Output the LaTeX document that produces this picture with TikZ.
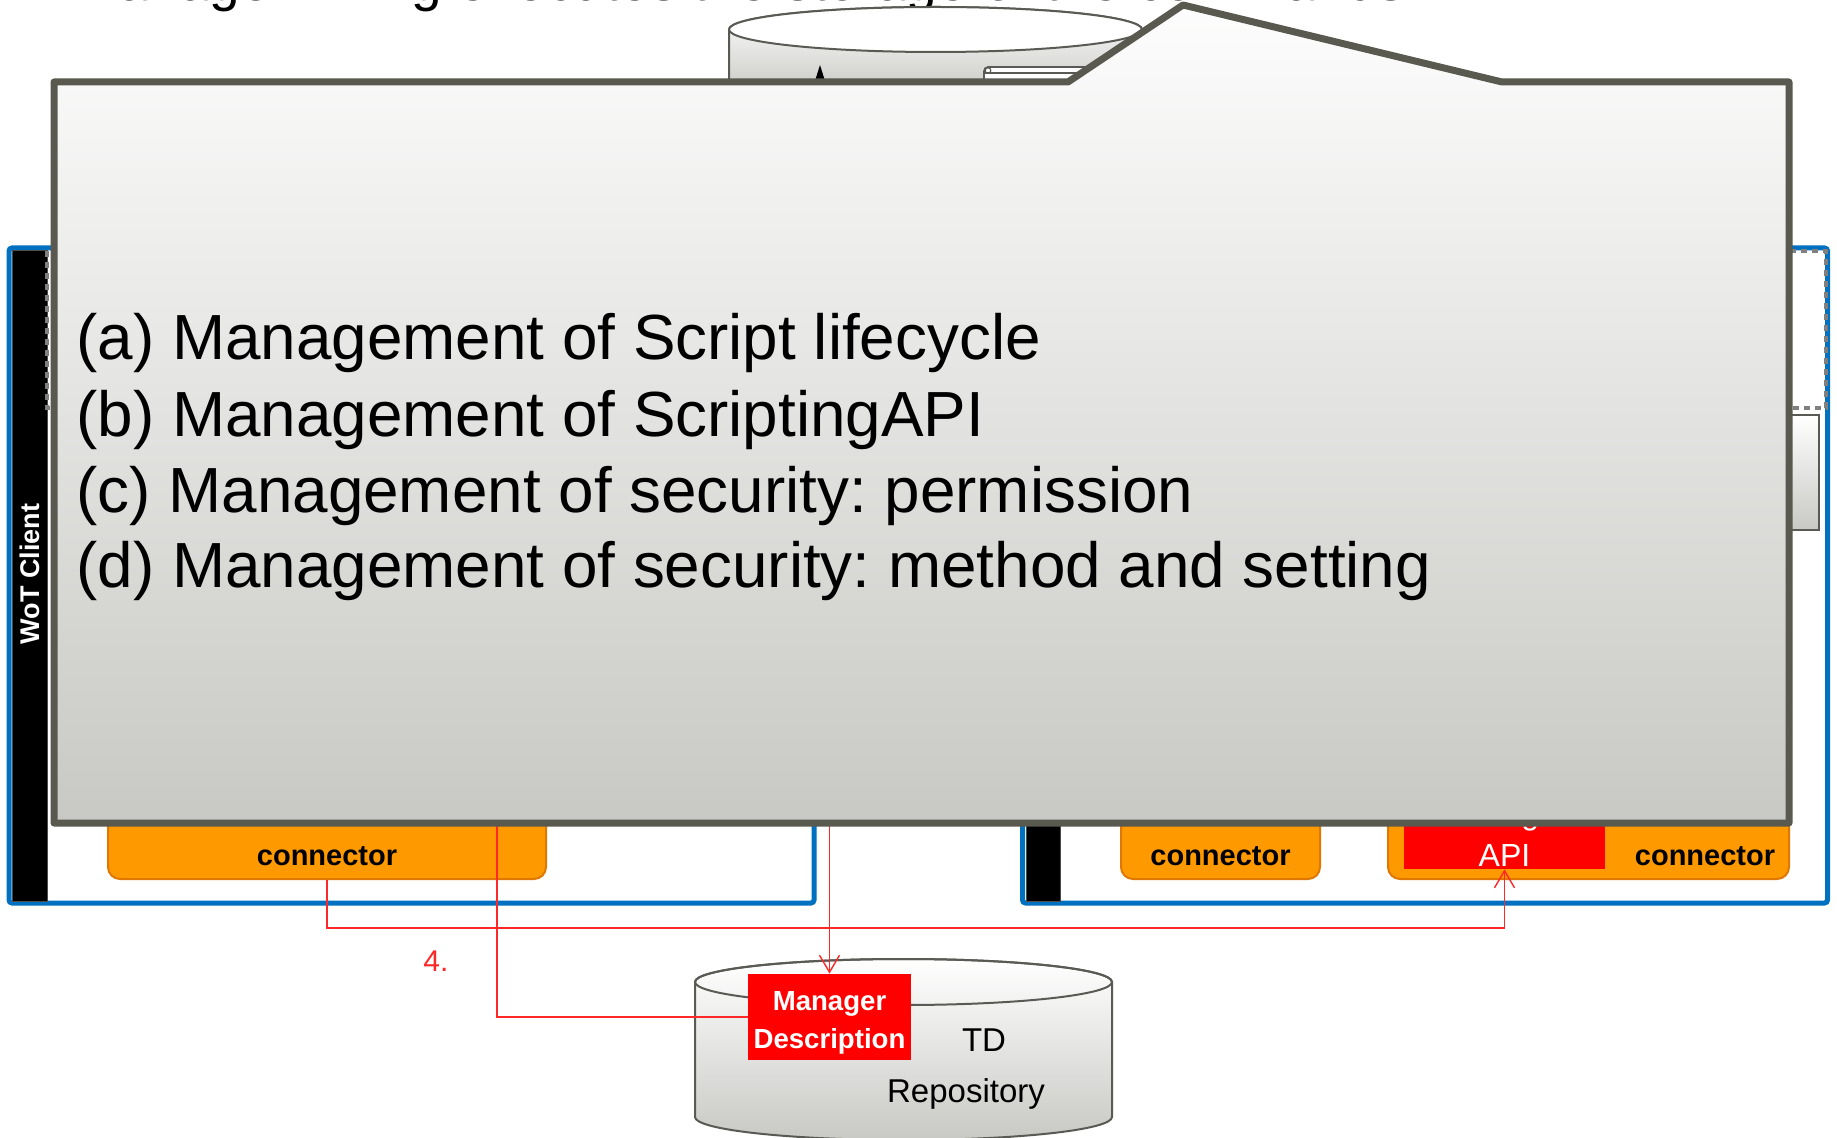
\documentclass[tikz,border=0pt]{standalone}
\usepackage{fontspec}
\setmainfont{Liberation Sans}
\usetikzlibrary{arrows.meta}
\definecolor{wotblue}{RGB}{0,112,192}
\definecolor{callgray}{RGB}{89,89,80}
\definecolor{calltop}{RGB}{253,253,253}
\definecolor{callbot}{RGB}{200,200,196}
\definecolor{orangefill}{RGB}{255,153,0}
\definecolor{orangeline}{RGB}{222,120,0}
\definecolor{linered}{RGB}{255,40,40}
\definecolor{dashgray}{RGB}{128,128,128}
\definecolor{cylline}{RGB}{90,90,85}
\definecolor{cylbot}{RGB}{200,200,196}
\definecolor{mdred}{RGB}{255,0,0}
\frenchspacing
\begin{document}
\begin{tikzpicture}[x=0.5pt,y=-0.5pt,
  bluebox/.style={draw=wotblue,line width=2.5pt,rounded corners=1.5pt,inner sep=0},
  blackbar/.style={fill=black,draw=black!70,line width=0.5pt,inner sep=0},
  connbox/.style={fill=orangefill,draw=orangeline,line width=1pt,rounded corners=6pt,inner sep=0},
  connlbl/.style={anchor=base,font=\bfseries\fontsize{14.5pt}{16pt}\selectfont,inner sep=0},
  redbox/.style={fill=mdred,inner sep=0},
  cylbody/.style={draw=cylline,line width=1pt,top color=white,bottom color=cylbot},
  redwire/.style={draw=linered,line width=0.7pt},
  redtip/.style={-{Straight Barb[length=8.5pt,width=10pt]}},
  calltxt/.style={anchor=base west,inner sep=0,font=\fontsize{31.9pt}{38pt}\selectfont}
]
\useasboundingbox (0,0) rectangle (1837,1138);
\fill[white] (0,0) rectangle (1837,1138);

% clipped heading at the very top
\node[anchor=base west,inner sep=0,font=\fontsize{27.5pt}{30pt}\selectfont] (toptext) at (72,0.8) {Manager Thing executes the storage of the commands};

% partly hidden cylinder at the top
\path[cylbody] (729,29.5) -- (729,95) -- (1142,95) -- (1142,29.5)
  arc[start angle=0,end angle=180,x radius=103.25pt,y radius=11.25pt] -- cycle;
\draw[cylline,line width=1pt,fill=white] (935.5,29.5) ellipse[x radius=103.25pt,y radius=11.25pt];
\draw[cylline,line width=0.8pt,fill=white,rounded corners=2pt] (984,67) rectangle (1110,95);
\draw[cylline,line width=0.8pt] (984,73) -- (1110,73);
\draw[cylline,line width=0.6pt] (988,70.5) circle[radius=1.4pt];
\fill[black] (814,84) -- (820,65) -- (826,84) -- cycle;

% WoT client boxes
\node[bluebox,minimum width=402.5pt,minimum height=327.5pt] (lbox) at (411.5,575.5) {};
\node[bluebox,minimum width=402.5pt,minimum height=327.5pt] (rbox) at (1425,575.5) {};
\node[blackbar,minimum width=17.5pt,minimum height=325pt] (lbar) at (29.5,576) {};
\node[blackbar,minimum width=17pt,minimum height=325pt] (rbar) at (1043,576) {};
\node[rotate=90,text=white,inner sep=0,font=\bfseries\fontsize{13.5pt}{15pt}\selectfont] (wotlbl) at (29.5,574) {WoT Client};

% gray dashed box and small gray box on the right
\draw[dashgray,line width=2pt,dash pattern=on 3pt off 2.5pt] (47,251) rectangle (1826,408);
\path[draw=cylline,line width=1pt,top color=white,bottom color=cylbot] (1700,415) rectangle (1819,530);

% connectors
\node[connbox,minimum width=219pt,minimum height=54.5pt] (lconn) at (327,824.5) {};
\node[connlbl] (lconnlbl) at (327,865) {connector};
\node[connbox,minimum width=99.5pt,minimum height=54.5pt] (rconna) at (1220.5,824.5) {};
\node[connlbl] (rconnalbl) at (1220.5,865) {connector};
\node[connbox,minimum width=200.5pt,minimum height=54.5pt] (rconnb) at (1588.5,824.5) {};
\node[connlbl] (rconnblbl) at (1705,865) {connector};
\node[redbox,minimum width=100.5pt,minimum height=39.5pt] (apibox) at (1504.5,829.5) {};
\node[anchor=base,inner sep=0,text=white,font=\fontsize{16pt}{17pt}\selectfont] (apimgr) at (1504.5,824) {Manager};
\node[anchor=base,inner sep=0,text=white,font=\fontsize{16pt}{17pt}\selectfont] (apilbl) at (1504.5,866) {API};

% TD repository
\path[cylbody] (695,982) -- (695,1117)
  arc[start angle=180,end angle=360,x radius=104.25pt,y radius=11.5pt]
  -- (1112,982) arc[start angle=0,end angle=180,x radius=104.25pt,y radius=11.5pt] -- cycle;
\draw[cylline,line width=1pt] (903.5,982) ellipse[x radius=104.25pt,y radius=11.5pt];
\node[inner sep=0,font=\fontsize{16.5pt}{18pt}\selectfont] (tdlbl) at (984,1040) {TD};
\node[inner sep=0,font=\fontsize{16.5pt}{18pt}\selectfont] (repolbl) at (966,1094) {Repository};
\node[redbox,minimum width=81.5pt,minimum height=43pt] (md) at (829.5,1017) {};
\node[anchor=base,inner sep=0,text=white,font=\bfseries\fontsize{13.8pt}{16pt}\selectfont] (mdtop) at (829.5,1010) {Manager};
\node[anchor=base,inner sep=0,text=white,font=\bfseries\fontsize{13.8pt}{16pt}\selectfont] (mdbot) at (829.5,1048) {Description};

% red wires
\coordinate (turn) at (1504.5,928);
\coordinate (srcb) at (497,800);
\coordinate (srcc) at (829.5,800);
\draw[redwire,redtip] (lconn.south) |- (turn) -- (apibox.south);
\draw[redwire] (srcb) |- (md.west);
\draw[redwire,redtip] (srcc) -- (md.north);
\node[text=linered,inner sep=0,font=\fontsize{15pt}{17pt}\selectfont] (step4) at (436,961) {4.};

% callout
\path[draw=callgray,line width=3.5pt,line join=round,top color=calltop,bottom color=callbot]
  (54,82) -- (1068,82) -- (1183,5) -- (1502,82) -- (1789,82) -- (1789,823) -- (54,823) -- cycle;
\node[calltxt] (ta) at (76,360) {(a) Management of Script lifecycle};
\node[calltxt] (tb) at (76,437) {(b) Management of ScriptingAPI};
\node[calltxt] (tc) at (76,513) {(c) Management of security: permission};
\node[calltxt] (td) at (76,588) {(d) Management of security: method and setting};
\end{tikzpicture}
\end{document}
